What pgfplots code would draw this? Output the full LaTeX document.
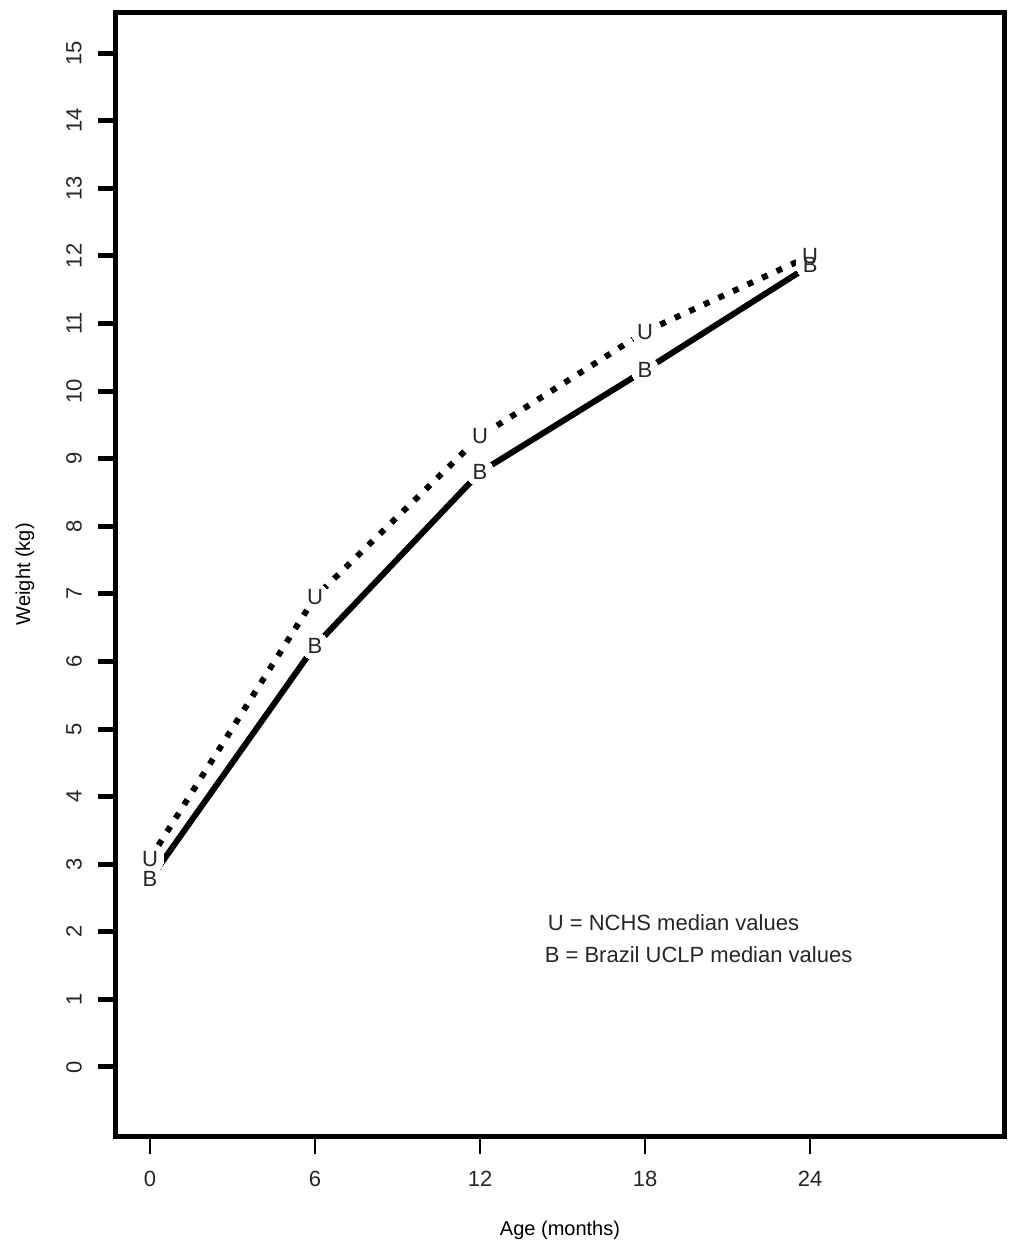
\documentclass[border=0pt]{standalone}
\usepackage{fontspec}
\setmainfont{Liberation Sans}
\usepackage{pgfplots}
\pgfplotsset{compat=1.18}
\newcommand\fs{\fontsize{11}{13}\selectfont}
\newcommand\fl{\fontsize{11.5}{13}\selectfont}
\begin{document}
\begin{tikzpicture}
\begin{axis}[name=ax,
 scale only axis, width=444pt, height=561.75pt,
 xmin=-1.236, xmax=31.05, ymin=-1.021, ymax=15.6,
 axis line style={line width=2.5pt, line join=miter},
 tick align=outside, major tick length=9pt,
 xtick={0,6,12,18,24}, ytick={0,1,...,15},
 xtick pos=bottom, ytick pos=left,
 xtick style={line width=1pt, black},
 ytick style={line width=2.5pt, black},
 /pgf/number format/assume math mode=true,
 tick label style={font=\fs, text=black!85},
 xticklabel style={anchor=center},
 yticklabel style={rotate=90, anchor=center},
 xticklabel shift=12.5pt, yticklabel shift=12pt,
 xlabel={Age (months)}, ylabel={Weight (kg)},
 label style={font=\fl, text=black!85},
 every axis x label/.style={at={(axis description cs:0.5,-0.0837)}, anchor=center},
 every axis y label/.style={at={(axis description cs:-0.1025,0.5)}, rotate=90, anchor=center},
 clip=false,
]
% B = Brazil UCLP (solid)
\addplot[black, line width=3pt, mark=*, mark size=7pt, mark options={solid, fill=white, draw=white, line width=0pt}]
 coordinates {(0,2.78) (6,6.23) (12,8.80) (18,10.31) (24,11.86)};
% U = NCHS (dotted)
\addplot[black, line width=3pt, dash pattern=on 3pt off 5pt, mark=*, mark size=7pt, mark options={solid, fill=white, draw=white, line width=0pt}]
 coordinates {(0,3.08) (6,6.95) (12,9.33) (18,10.88) (24,12.0)};
\addplot[draw=none, mark=none, nodes near coords={B}, nodes near coords align={center},
 every node near coord/.append style={anchor=center, font=\fs, inner sep=0pt, text=black!85}]
 coordinates {(0,2.78) (6,6.23) (12,8.80) (18,10.31) (24,11.86)};
\addplot[draw=none, mark=none, nodes near coords={U}, nodes near coords align={center},
 every node near coord/.append style={anchor=center, font=\fs, inner sep=0pt, text=black!85}]
 coordinates {(0,3.08) (6,6.95) (12,9.33) (18,10.88) (24,12.0)};
\node[anchor=west, font=\fs, inner sep=0pt, text=black!85] at (axis cs:14.45,2.13) {U = NCHS median values};
\node[anchor=west, font=\fs, inner sep=0pt, text=black!85] at (axis cs:14.34,1.66) {B = Brazil UCLP median values};
\end{axis}
\pgfresetboundingbox
\path[use as bounding box] ([shift={(-58pt,-56pt)}]ax.south west) rectangle ([shift={(2pt,6.25pt)}]ax.north east);
\end{tikzpicture}
\end{document}
